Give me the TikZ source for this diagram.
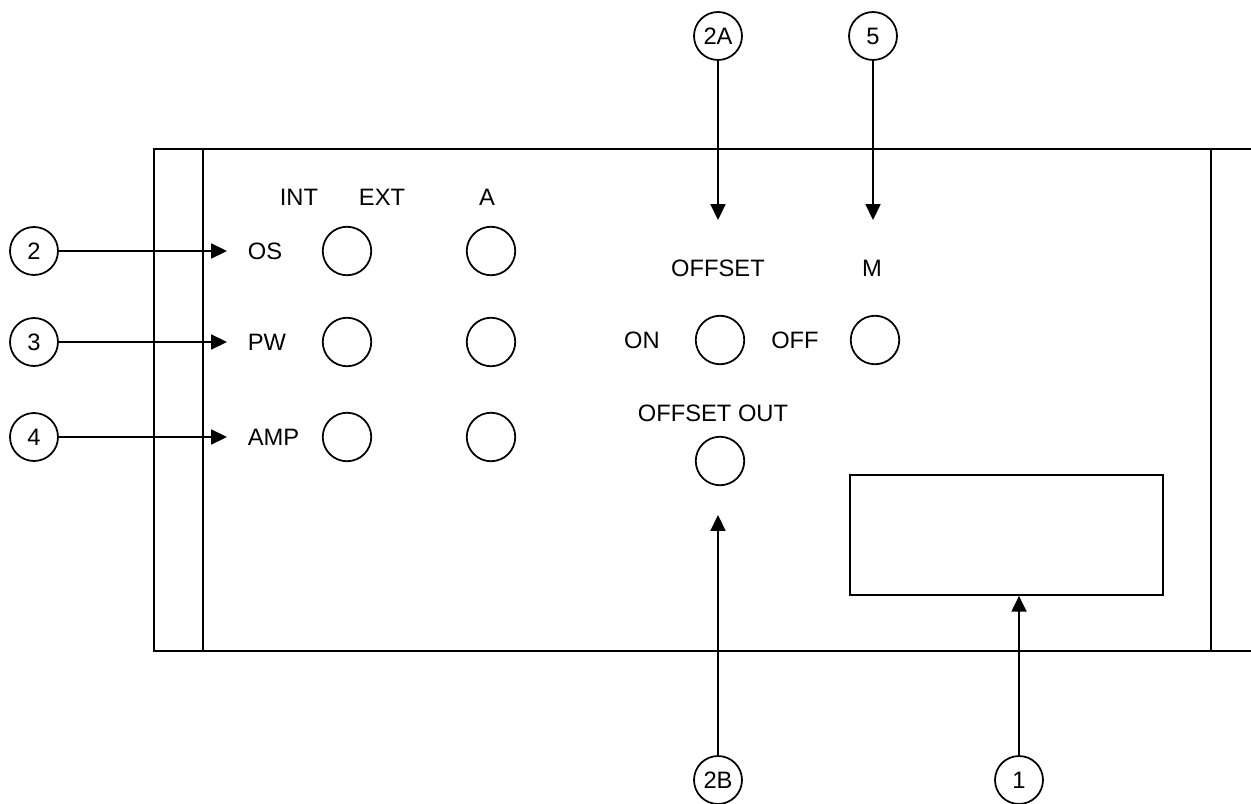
\documentclass[tikz,border=0pt]{standalone}
\usepackage{fontspec}
\setmainfont{Liberation Sans}
\usetikzlibrary{arrows.meta}

\begin{document}
\begin{tikzpicture}[x=0.02cm,y=-0.02cm,line width=1pt,
    every node/.style={font=\fontsize{13.5}{16}\selectfont},
    callout/.style={draw,circle,minimum size=0.96cm,inner sep=0pt},
    knob/.style={draw,circle,minimum size=0.97cm,inner sep=0pt},
    pointer/.style={-{Triangle[length=9pt,width=8.5pt]}}]
    \useasboundingbox (0,0) rectangle (1251,804);

    % front panel
    \draw (1251,149) -- (154,149) -- (154,651) -- (1251,651);
    \draw (203,149) -- (203,651);
    \draw (1211,149) -- (1211,651);
    \node[draw,rectangle,inner sep=0pt,minimum width=6.26cm,minimum height=2.4cm] (display) at (1006.5,535) {};

    % left block
    \node (int) at (299,197) {INT};
    \node (ext) at (382,197) {EXT};
    \node (ahead) at (487,197) {A};
    \foreach \y/\name/\txt/\num in {251/os/OS/2, 342/pw/PW/3, 437/amp/AMP/4} {
        \node[anchor=west,inner sep=0pt] (\name) at (247,\y) {\txt};
        \node[knob] (\name int) at (347,\y) {};
        \node[knob] (\name a) at (491,\y) {};
        \node[callout] (c\num) at (34,\y) {\num};
        \coordinate (\name tip) at (227,\y);
        \draw[pointer] (c\num) -- (\name tip);
    }

    % offset block
    \node (offset) at (718,268) {OFFSET};
    \node (mode) at (872,268) {M};
    \node (on) at (642,340) {ON};
    \node[knob] (onknob) at (720,340) {};
    \node (off) at (795,340) {OFF};
    \node[knob] (offknob) at (875,340) {};
    \node (offout) at (713,413) {OFFSET OUT};
    \node[knob] (outknob) at (720,461) {};

    % callouts top and bottom
    \node[callout] (c2a) at (718,36) {2A};
    \node[callout] (c5) at (873,36) {5};
    \node[callout] (c2b) at (718,780) {2B};
    \node[callout] (c1) at (1019,780) {1};
    \coordinate (offsettip) at (718,220);
    \coordinate (modetip) at (873,220);
    \coordinate (outtip) at (718,515);
    \draw[pointer] (c2a) -- (offsettip);
    \draw[pointer] (c5) -- (modetip);
    \draw[pointer] (c2b) -- (outtip);
    \draw[pointer] (c1) -- (c1 |- display.south);
\end{tikzpicture}
\end{document}
